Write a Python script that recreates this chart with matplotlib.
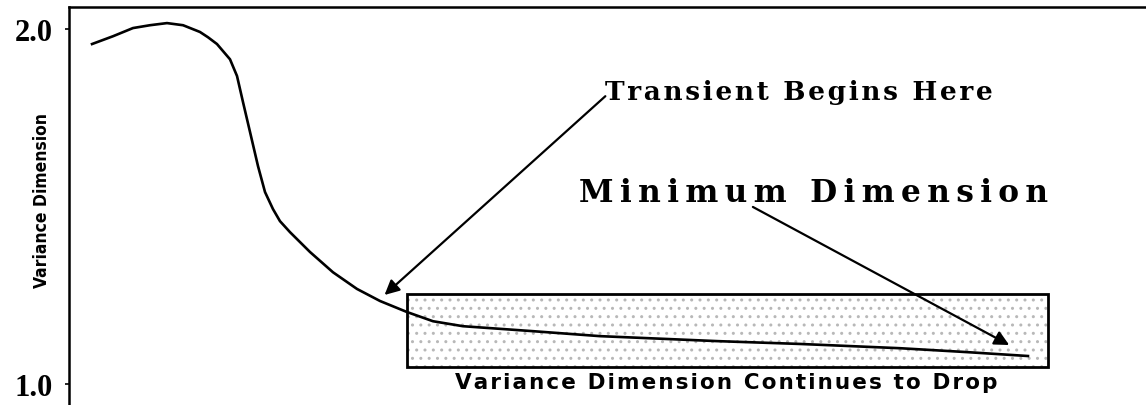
import matplotlib
matplotlib.use("Agg")
import matplotlib.pyplot as plt
from matplotlib.patches import Rectangle

# Curve data (arbitrary time units, variance dimension)
time = [2.14, 4.09, 5.94, 7.52, 9.10, 10.59, 12.16, 12.91, 13.74, 14.95, 15.60, 16.16,
        16.81, 17.55, 18.20, 18.94, 19.59, 20.52, 22.38, 24.51, 26.74, 28.88, 31.38,
        33.80, 36.58, 43.08, 49.30, 55.52, 60.17, 67.87, 77.16, 83.38, 89.04]
dimension = [1.958, 1.980, 2.003, 2.011, 2.017, 2.011, 1.992, 1.977, 1.958, 1.915, 1.868,
             1.794, 1.710, 1.614, 1.541, 1.493, 1.459, 1.428, 1.372, 1.315, 1.268, 1.234,
             1.203, 1.177, 1.163, 1.149, 1.135, 1.127, 1.121, 1.113, 1.101, 1.090, 1.079]

ytick_values = [1.0, 2.0]
ytick_labels = ["1.0", "2.0"]
y_label = "Variance Dimension"

box_x = [31.4, 90.9]
box_y = [1.048, 1.254]

ann_transient_text = "Transient Begins Here"
ann_transient_tip = (29.3, 1.251)
ann_transient_xy = (49.8, 1.823)
ann_min_text = "Minimum Dimension"
ann_min_tip = (87.3, 1.110)
ann_min_start = (63.5, 1.499)
ann_min_xy = (47.4, 1.541)
box_caption = "Variance Dimension Continues to Drop"
box_caption_xy = (61.0, 1.006)


def spaced(s, sep):
    return sep.join(s)


fig = plt.figure(figsize=(11.46, 4.06), dpi=100)
ax = fig.add_axes([0.0602, 0.0, 0.9398, 0.980])
ax.set_xlim(0, 100)
ax.set_ylim(0.941, 2.062)

for s in ["right", "bottom"]:
    ax.spines[s].set_visible(False)
ax.spines["left"].set_linewidth(1.8)
ax.spines["top"].set_linewidth(1.8)
ax.set_xticks([])
ax.set_yticks(ytick_values)
ax.set_yticklabels(ytick_labels, fontfamily="Liberation Serif", fontweight="bold", fontsize=22)
ax.tick_params(axis="y", length=3, width=1.2, pad=9)

ax.text(-0.0255, 0.5176, y_label, transform=ax.transAxes, rotation=90, ha="center", va="center",
        fontfamily="DejaVu Sans", fontstretch="condensed", fontweight="bold", fontsize=12.5)

# shaded box
ax.add_patch(Rectangle((box_x[0], box_y[0]), box_x[1] - box_x[0], box_y[1] - box_y[0],
                       facecolor="none", edgecolor="#b8b8b8", hatch="..", linewidth=0))
ax.add_patch(Rectangle((box_x[0], box_y[0]), box_x[1] - box_x[0], box_y[1] - box_y[0],
                       facecolor="none", edgecolor="black", linewidth=2))

ax.plot(time, dimension, color="black", linewidth=1.9, solid_joinstyle="round")

arrow = dict(arrowstyle="-|>", color="black", lw=1.6, mutation_scale=22, shrinkA=0, shrinkB=0)
ax.annotate("", xy=ann_transient_tip, xytext=(ann_transient_xy[0], ann_transient_xy[1] - 0.012),
            arrowprops=arrow)
ax.text(ann_transient_xy[0], ann_transient_xy[1], spaced(ann_transient_text, "\u200a"),
        ha="left", va="center", fontfamily="DejaVu Serif", fontweight="bold", fontsize=19)
ax.annotate("", xy=ann_min_tip, xytext=ann_min_start, arrowprops=arrow)
ax.text(ann_min_xy[0], ann_min_xy[1], spaced(ann_min_text, "\u2009"),
        ha="left", va="center", fontfamily="DejaVu Serif", fontweight="bold", fontsize=22.5)
ax.text(box_caption_xy[0], box_caption_xy[1], spaced(box_caption, "\u200a"),
        ha="center", va="center", fontfamily="DejaVu Sans", fontweight="bold", fontsize=15.5)

fig.savefig("out.png", dpi=100)
